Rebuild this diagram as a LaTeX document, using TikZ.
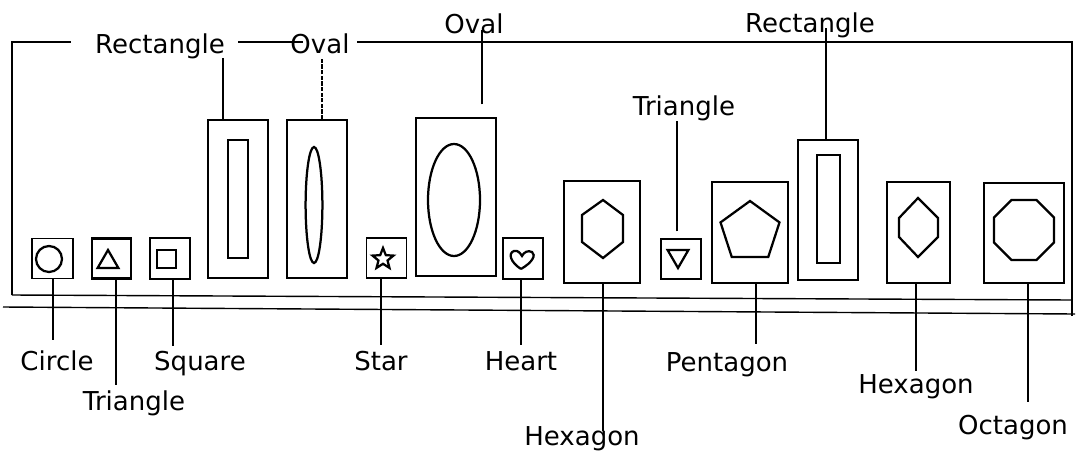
\documentclass[tikz,border=0pt]{standalone}
\usepackage{fontspec}
\setmainfont{DejaVu Sans}
\usetikzlibrary{shapes.geometric}

\tikzset{
  rim/.style={line width=1pt},
  bx/.style={draw, line width=1pt, inner sep=0pt},
  thk/.style={line width=1.5pt},
  shp/.style={line width=1.6pt},
  poly/.style={draw, shp, regular polygon, inner sep=0pt},
  lbl/.style={font=\fontsize{18.5}{20}\selectfont, anchor=base, inner sep=1pt},
}

\begin{document}
\begin{tikzpicture}[x=0.25mm,y=-0.25mm]
\useasboundingbox (0,0) rectangle (1079,452);

% frame and the double base line
\draw[rim] (12,295) -- (12,42) -- (71,42);
\draw[rim] (238,42) -- (303,42);
\draw[rim] (357,42) -- (1072,42) -- (1072,316);
\draw[rim] (12,295) -- (1072,300);
\draw[rim] (3,307) -- (1075,314);

% boxes
\node[bx, minimum width=10.25mm, minimum height=10mm] (bcirc) at (52.5,258.5) {};
\node[bx, thk, minimum width=9.75mm, minimum height=10mm] (btri) at (111.5,258.5) {};
\node[bx, thk, minimum width=10mm, minimum height=10.25mm] (bsq) at (170,258.5) {};
\node[bx, minimum width=15mm, minimum height=39.5mm] (brect) at (238,199) {};
\node[bx, minimum width=15mm, minimum height=39.5mm] (boval) at (317,199) {};
\node[bx, minimum width=10mm, minimum height=10mm] (bstar) at (386.5,258) {};
\node[bx, minimum width=20mm, minimum height=39.5mm] (bovalb) at (456,197) {};
\node[bx, minimum width=10mm, minimum height=10.25mm] (bheart) at (523,258.5) {};
\node[bx, minimum width=19mm, minimum height=25.5mm] (bhex) at (602,232) {};
\node[bx, minimum width=10mm, minimum height=10mm] (btrib) at (681,259) {};
\node[bx, minimum width=19mm, minimum height=25.25mm] (bpent) at (750,232.5) {};
\node[bx, minimum width=15mm, minimum height=35mm] (brectb) at (828,210) {};
\node[bx, minimum width=15.75mm, minimum height=25.25mm] (bhexb) at (918.5,232.5) {};
\node[bx, minimum width=20mm, minimum height=25mm] (boct) at (1024,233) {};

% shapes inside the boxes
\draw[shp] (49,259) circle[radius=3.25mm];
\node[poly, regular polygon sides=3, minimum size=6mm] (itri) at (108,262) {};
\draw[shp] (157,250) rectangle (176,268);
\draw[shp] (228,140) rectangle (248,258);
\draw[shp] (314,205) ellipse[x radius=2.1mm, y radius=14.5mm];
\node[draw, shp, star, star points=5, star point ratio=2.3, inner sep=0pt, minimum size=5.5mm] (istar) at (383,259) {};
\draw[shp] (454,200) ellipse[x radius=6.5mm, y radius=14mm];
\draw[shp] (521,269) .. controls (510,262) and (508,253) .. (514,251)
  .. controls (518,250) and (520,253) .. (522,256)
  .. controls (524,252) and (528,250) .. (532,252)
  .. controls (536,255) and (533,262) .. (521,269);
\draw[shp] (603,200) -- (623,215) -- (623,242) -- (603,258) -- (582,242) -- (582,215) -- cycle;
\node[poly, regular polygon sides=3, shape border rotate=180, minimum size=6mm] (itrib) at (678,256) {};
\node[poly, regular polygon sides=5, minimum size=15.5mm] (ipent) at (750,232) {};
\draw[shp] (817,155) rectangle (840,263);
\draw[shp] (918,198) -- (938,218) -- (938,237) -- (918,257) -- (899,237) -- (899,218) -- cycle;
\node[poly, regular polygon sides=8, minimum size=16.25mm] (ioct) at (1024,230) {};

% labels
\node[lbl] (lrect) at (160,53) {Rectangle};
\node[lbl] (loval) at (320,53) {Oval};
\node[lbl] (lovalb) at (474,33) {Oval};
\node[lbl] (lrectb) at (810,32) {Rectangle};
\node[lbl] (ltrib) at (684,115) {Triangle};
\node[lbl] (lcirc) at (57,370) {Circle};
\node[lbl] (ltri) at (134,410) {Triangle};
\node[lbl] (lsq) at (200,370) {Square};
\node[lbl] (lstar) at (381,370) {Star};
\node[lbl] (lheart) at (521,370) {Heart};
\node[lbl] (lhex) at (582,445) {Hexagon};
\node[lbl] (lpent) at (727,371) {Pentagon};
\node[lbl] (lhexb) at (916,393) {Hexagon};
\node[lbl] (loct) at (1013,434) {Octagon};

% leader lines below the boxes
\foreach \b/\e/\x/\y in {bcirc/scirc/53/340, btri/stri/116/385, bsq/ssq/173/346,
    bstar/sstar/381/345, bheart/sheart/521/345, bhex/shex/603/431,
    bpent/spent/756/344, bhexb/shexb/916/371, boct/soct/1028/402}
  {\coordinate (\e) at (\x,\y);
   \draw[rim] (\e |- \b.south) -- (\e);}

% leader lines above the boxes
\coordinate (trect) at (223,58);
\coordinate (toval) at (322,58);
\coordinate (tovalb) at (482,30);
\coordinate (ttrib) at (677,121);
\coordinate (trectb) at (826,28);
\draw[rim] (trect |- brect.north) -- (trect);
\draw[rim, dash pattern=on 3pt off 1pt] (toval |- boval.north) -- (toval);
\draw[rim, shorten <=3.25mm] (tovalb |- bovalb.north) -- (tovalb);
\draw[rim, shorten <=1.75mm] (ttrib |- btrib.north) -- (ttrib);
\draw[rim] (trectb |- brectb.north) -- (trectb);
\end{tikzpicture}
\end{document}
